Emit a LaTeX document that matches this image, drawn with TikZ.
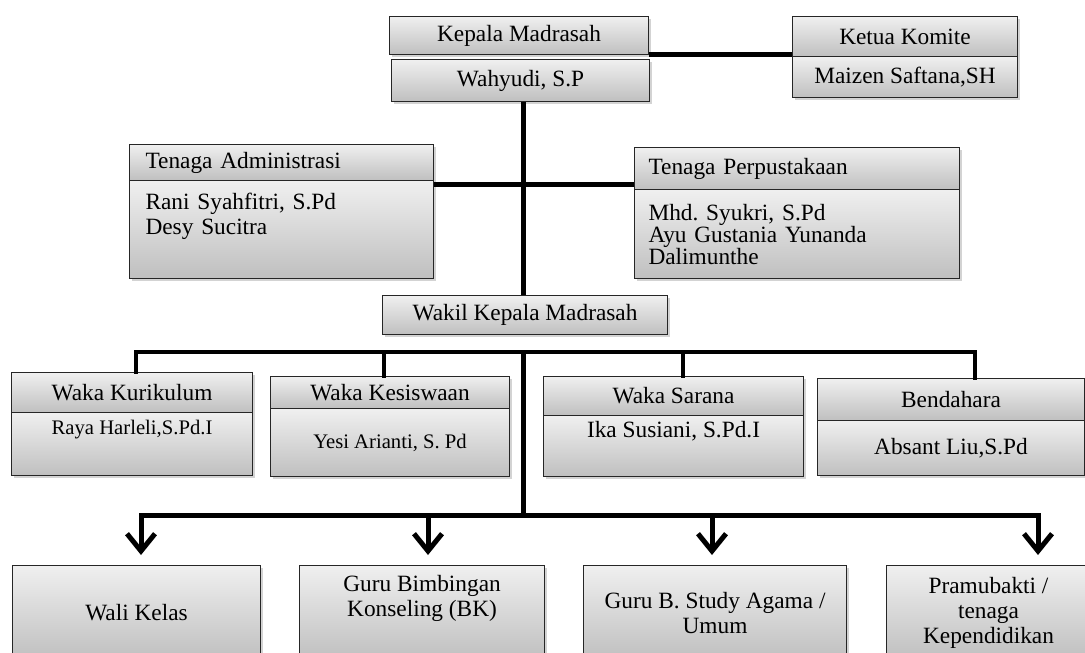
\documentclass[tikz,border=0pt]{standalone}
\usepackage{fontspec}
\setmainfont{Liberation Serif}
\usetikzlibrary{shadows,arrows.meta}
\frenchspacing

\begin{document}
\begin{tikzpicture}[x=0.75pt,y=-0.75pt,
  box/.style={draw=black!85,line width=0.8pt,top color=gray!12,bottom color=gray!50,
    drop shadow={shadow xshift=1.5pt,shadow yshift=-1.5pt,opacity=0.35},
    anchor=north west,inner sep=0pt,align=center,
    font=\fontsize{17.5}{18.75}\selectfont},
  small/.style={font=\fontsize{15.5}{18.75}\selectfont},
  lbox/.style={box,align=left},
  line/.style={line width=3.75pt},
  barline/.style={line width=3pt,line cap=rect},
  arr/.style={line width=3.75pt,-{Straight Barb[length=13pt,width=21pt]},shorten >=7.5pt}]

\clip (0,0) rectangle (1085,653);

% kepala dan komite
\node[box,minimum width=194.25pt,minimum height=28.5pt] (kepala) at (389,16) {Kepala Madrasah};
\node[box,minimum width=193.5pt,minimum height=31.5pt] (wahyudi) at (391,59) {Wahyudi, S.P};
\node[box,minimum width=168.75pt,minimum height=30pt] (ketua) at (792,16) {Ketua Komite};
\node[box,minimum width=168.75pt,minimum height=30.75pt] (maizen) at (792,56) {Maizen Saftana,SH};

% tenaga
\node[lbox,text width=204pt,inner xsep=12pt,minimum height=27pt] (adminh) at (129,144) {Tenaga Administrasi};
\node[lbox,text width=204pt,inner xsep=12pt,minimum height=73.5pt] (adminb) at (129,180) {Rani Syahfitri, S.Pd\\Desy Sucitra\\\strut};
\node[lbox,text width=222.75pt,inner xsep=10.5pt,minimum height=31.5pt] (pustakah) at (634,147) {Tenaga Perpustakaan};
\node[lbox,text width=222.75pt,inner xsep=10.5pt,minimum height=66.75pt,font=\fontsize{17.5}{16.5}\selectfont] (pustakab) at (634,189) {Mhd. Syukri, S.Pd\\Ayu Gustania Yunanda\\Dalimunthe};

\node[box,minimum width=213.75pt,minimum height=29.25pt] (wakil) at (382,295) {Wakil Kepala Madrasah};

% waka
\node[box,minimum width=180.75pt,minimum height=30pt] (kurikulum) at (11,372) {Waka Kurikulum};
\node[box,small,minimum width=180.75pt,minimum height=47.25pt] (raya) at (11,412) {Raya Harleli,S.Pd.I\\\strut};
\node[box,minimum width=179.25pt,minimum height=24pt] (kesiswaan) at (270,376) {Waka Kesiswaan};
\node[box,small,minimum width=179.25pt,minimum height=51pt] (yesi) at (270,408) {Yesi Arianti, S. Pd};
\node[box,minimum width=195pt,minimum height=29.25pt] (sarana) at (543,376) {Waka Sarana};
\node[box,minimum width=195pt,minimum height=45.75pt] (ika) at (543,415) {Ika Susiani, S.Pd.I\\\strut};
\node[box,minimum width=200.25pt,minimum height=31.5pt] (bendahara) at (817,378) {Bendahara};
\node[box,minimum width=200.25pt,minimum height=41.25pt] (absant) at (817,420) {Absant Liu,S.Pd};

% guru
\node[box,minimum width=186pt,minimum height=70.5pt] (wali) at (12,565) {Wali Kelas};
\node[box,minimum width=183.75pt,minimum height=70.5pt] (bk) at (299,565) {Guru Bimbingan\\Konseling (BK)\\\strut};
\node[box,minimum width=197.25pt,minimum height=70.5pt] (agama) at (583,565) {Guru B. Study Agama /\\Umum};
\node[box,minimum width=153pt,minimum height=70.5pt] (pram) at (886,565) {Pramubakti /\\tenaga\\Kependidikan};

% garis
\coordinate (m) at (523,352);
\coordinate (u1) at (136,352);
\coordinate (u2) at (384,352);
\coordinate (u3) at (683,352);
\coordinate (u4) at (975,352);
\coordinate (d1) at (141,515);
\coordinate (d2) at (428,515);
\coordinate (d3) at (712,515);
\coordinate (d4) at (1038,515);

\draw[line] ([yshift=0.75pt]kepala.south east) -- ([yshift=0.75pt]kepala.south east -| ketua.west);
\draw[line] ([yshift=-2.25pt]adminh.south east) -- ([yshift=-2.25pt]adminh.south east -| pustakah.west);
\draw[line] (m |- wahyudi.south) -- (m |- wakil.north);

\draw[barline] (u1) -- (u4);
\foreach \p/\n in {u1/kurikulum,u2/kesiswaan,u3/sarana,u4/bendahara}
\draw[barline] (\p) -- (\p |- \n.north);

\draw[line] (m) -- (m |- d1);
\draw[line,line cap=rect] (d1) -- (d4);
\foreach \p/\n in {d1/wali,d2/bk,d3/agama,d4/pram}
\draw[arr] (\p) -- (\p |- \n.north);
\end{tikzpicture}
\end{document}
